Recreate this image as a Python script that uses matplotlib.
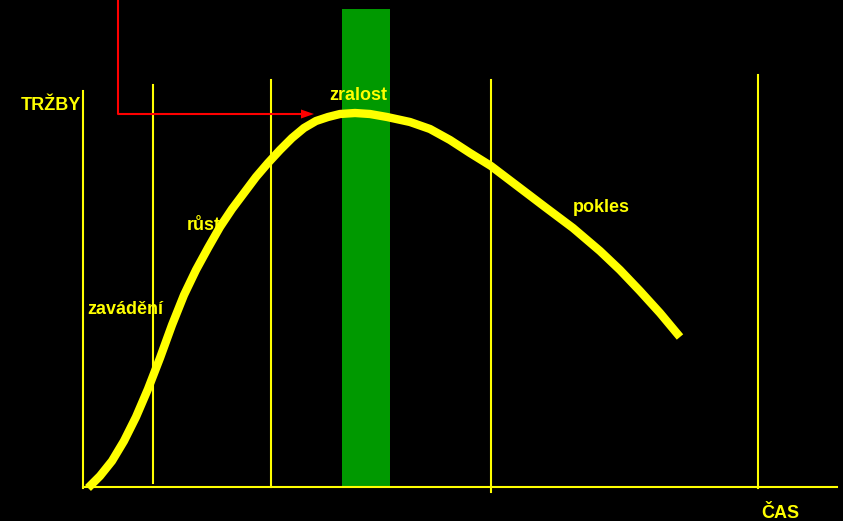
import matplotlib
matplotlib.use("Agg")
import matplotlib.pyplot as plt
from matplotlib.patches import Rectangle, Polygon

# Product life cycle: sales over time
time = [88, 100, 112, 124, 136, 148, 160, 172, 184, 196, 208, 220, 232, 244, 256,
        268, 280, 292, 304, 316, 328, 340, 355, 370, 387, 410, 430, 450, 470, 491,
        520, 545, 573, 600, 620, 640, 660, 680]
sales = [33, 45, 60, 80, 104, 132, 163, 196, 226, 251, 273, 294, 312, 328, 344,
         358, 371, 383, 393, 400, 404, 407, 408, 407, 404, 399, 392, 381, 368, 355,
         333, 314, 293, 270, 251, 230, 208, 184]

# Phase boundaries (time) and their vertical extent (sales)
phase_x = [153, 271, 491, 758]
phase_top = [436, 441, 441, 446]
phase_bottom = [38, 34, 29, 33]

maturity_band = (342, 390)
axis_origin = (83, 33)
axis_x_end = 837
axis_y_top = 430

labels = ["TRŽBY", "zralost", "růst", "zavádění", "pokles", "ČAS"]
label_pos = [(21, 415), (329, 426), (187, 295), (87, 211), (573, 313), (761, 8)]

yellow = "#ffff00"

fig = plt.figure(figsize=(8.43, 5.21), dpi=100, facecolor="black")
ax = fig.add_axes([0, 0, 1, 1])
ax.set_facecolor("black")
ax.set_xlim(0, 843)
ax.set_ylim(0, 521)
ax.axis("off")

# maturity stage highlight
ax.add_patch(Rectangle((maturity_band[0], axis_origin[1]), maturity_band[1] - maturity_band[0],
                       512 - axis_origin[1], facecolor="#009900", edgecolor="none", zorder=1))

# axes
ax.plot([axis_origin[0], axis_origin[0]], [axis_origin[1], axis_y_top], color=yellow, lw=1.5, zorder=2)
ax.plot([axis_origin[0], axis_x_end], [axis_origin[1] + 1, axis_origin[1] + 1], color=yellow, lw=1.5, zorder=2)

# phase separators
for x, top, bot in zip(phase_x, phase_top, phase_bottom):
    ax.plot([x, x], [bot, top], color=yellow, lw=1.5, zorder=2)

# red pointer
ax.plot([118, 118, 303], [521, 407, 407], color="#ff0000", lw=1.5, zorder=3)
ax.add_patch(Polygon([[301, 411.5], [314, 407], [301, 402.5]], closed=True,
                     facecolor="#ff0000", edgecolor="none", zorder=3))

# sales curve
ax.plot(time, sales, color=yellow, lw=6, solid_capstyle="butt", solid_joinstyle="round", zorder=4)

for text, (x, y) in zip(labels, label_pos):
    ax.text(x, y, text, color=yellow, fontsize=13, fontweight="bold",
            family="Liberation Sans", ha="left", va="center", zorder=5)

fig.savefig("out.png", dpi=100, facecolor="black")
